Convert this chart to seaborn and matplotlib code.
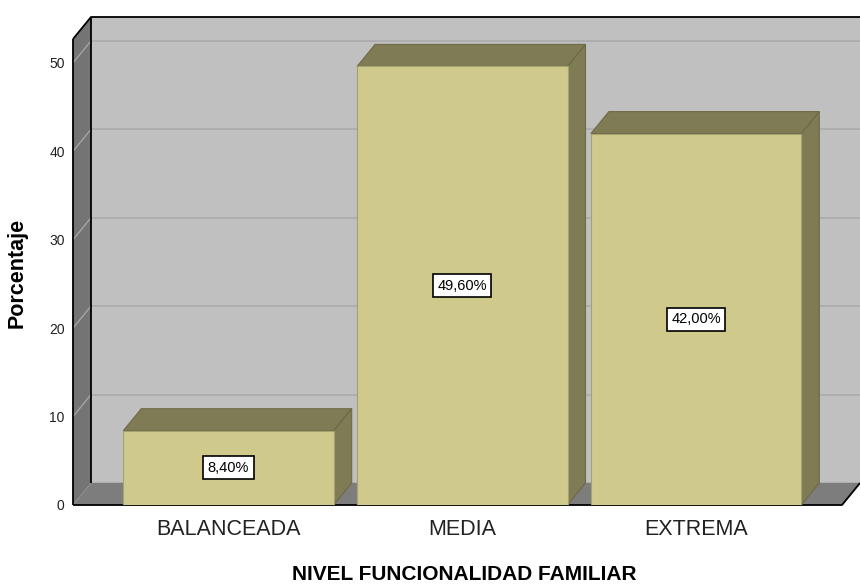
import matplotlib
matplotlib.use('Agg')
import matplotlib.pyplot as plt
import seaborn as sns
import pandas as pd
from matplotlib.patches import Polygon

categorias = ['BALANCEADA', 'MEDIA', 'EXTREMA']
porcentajes = [8.4, 49.6, 42.0]
y_ticks = [0, 10, 20, 30, 40, 50]

sns.set_theme(style='white')
plt.rcParams['font.family'] = ['Liberation Sans', 'DejaVu Sans']

fig = plt.figure(figsize=(8.6, 5.86), dpi=100)
ax = fig.add_axes([73 / 860, 81 / 586, 769 / 860, 466 / 586])
ax.patch.set_visible(False)

df = pd.DataFrame({'nivel': categorias, 'pct': porcentajes})
sns.barplot(data=df, x='nivel', y='pct', color='#CFCA8C', width=0.9, saturation=1,
            edgecolor='#A6A26E', linewidth=0.8, ax=ax, zorder=5)

x0, x1 = -0.665, 2.624
ymax = 52.7
ax.set_xlim(x0, x1)
ax.set_ylim(0, ymax)


def px_to_data(dx, dy):
    inv = ax.transData.inverted()
    a = inv.transform((0, 0))
    b = inv.transform((dx, dy))
    return b[0] - a[0], b[1] - a[1]


DX, DY = px_to_data(18, 22)

# paredes y piso
back = Polygon([(x0 + DX, DY), (x1 + DX, DY), (x1 + DX, ymax + DY), (x0 + DX, ymax + DY)],
               closed=True, fc='#C0C0C0', ec='none', zorder=0, clip_on=False)
left = Polygon([(x0, 0), (x0, ymax), (x0 + DX, ymax + DY), (x0 + DX, DY)],
               closed=True, fc='#747474', ec='none', zorder=0, clip_on=False)
floor = Polygon([(x0, 0), (x1, 0), (x1 + DX, DY), (x0 + DX, DY)],
                closed=True, fc='#7D7D7D', ec='none', zorder=2, clip_on=False)
for p in (back, left, floor):
    ax.add_patch(p)

for t in y_ticks:
    ax.plot([x0 + DX, x1 + DX], [t + DY, t + DY], color='#ABABAB', lw=1.2, zorder=1, clip_on=False)
    if t > 0:
        ax.plot([x0, x0 + DX], [t, t + DY], color='#A4A4A4', lw=1.0, zorder=1, clip_on=False)

# bordes negros
k = dict(color='black', lw=1.3, zorder=3, clip_on=False, solid_capstyle='butt')
ax.plot([x0, x0], [0, ymax], **k)
ax.plot([x0, x0 + DX, x1 + DX], [ymax, ymax + DY, ymax + DY], **k)
ax.plot([x0 + DX, x0 + DX], [DY, ymax + DY], **k)
ax.plot([x0, x1, x1 + DX], [0, 0, DY], **k)

# caras 3D de las barras
for bar in ax.patches:
    if not hasattr(bar, 'get_width') or bar in (back, left, floor):
        continue
    bx0 = bar.get_x()
    bx1 = bx0 + bar.get_width()
    h = bar.get_height()
    top = Polygon([(bx0, h), (bx1, h), (bx1 + DX, h + DY), (bx0 + DX, h + DY)],
                  closed=True, fc='#7F7B55', ec='#6E6A47', lw=0.8, zorder=4, clip_on=False)
    side = Polygon([(bx1, 0), (bx1, h), (bx1 + DX, h + DY), (bx1 + DX, DY)],
                   closed=True, fc='#7F7B55', ec='#6E6A47', lw=0.8, zorder=4, clip_on=False)
    ax.add_patch(top)
    ax.add_patch(side)

for i, v in enumerate(porcentajes):
    etiqueta = f'{v:.2f}'.replace('.', ',') + '%'
    ax.text(i, v / 2, etiqueta, ha='center', va='center', fontsize=10.5, color='black', zorder=7,
            bbox=dict(boxstyle='square,pad=0.3', fc='white', ec='black', lw=1.2))

for s in ax.spines.values():
    s.set_visible(False)
ax.grid(False)
ax.set_yticks(y_ticks)
ax.set_yticklabels([str(t) for t in y_ticks])
ax.tick_params(axis='y', length=0, pad=6, labelsize=10, labelcolor='#222222')
ax.tick_params(axis='x', length=0, pad=10, labelsize=15.5, labelcolor='#222222')
ax.set_xlabel('')
ax.set_ylabel('')

fig.text(17.5 / 860, 1 - 272.5 / 586, 'Porcentaje', rotation=90, ha='center', va='center',
         fontsize=15.5, fontweight='bold', color='black')
fig.text(464 / 860, 1 - 575 / 586, 'NIVEL FUNCIONALIDAD FAMILIAR', ha='center', va='center',
         fontsize=15, fontweight='bold', color='black')

fig.savefig('out.png', dpi=100)
plt.close()
